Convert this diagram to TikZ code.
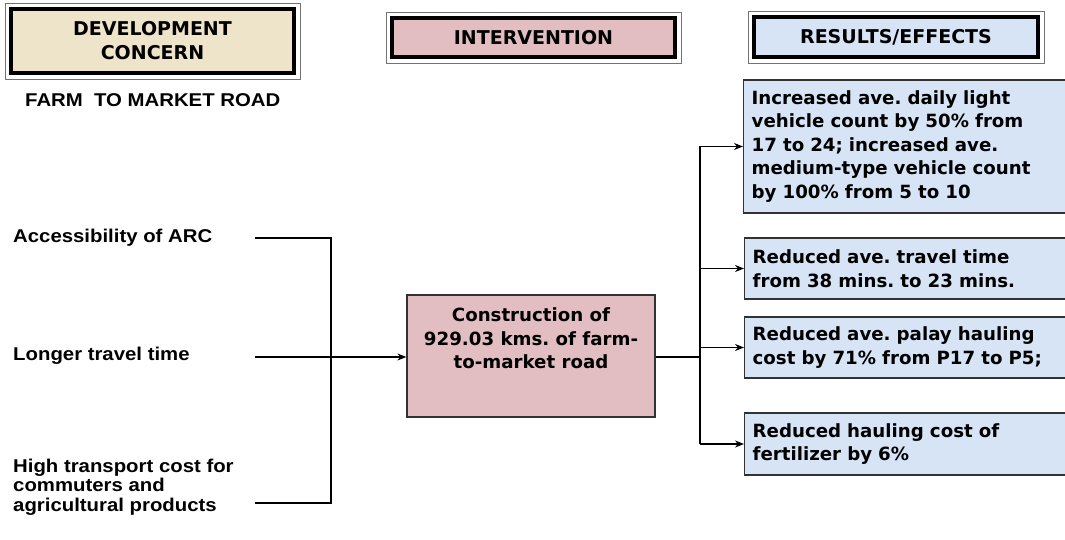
\documentclass[tikz,border=0pt]{standalone}
\usepackage{fontspec}
\setmainfont{DejaVu Sans}
\newfontfamily\arialb{Liberation Sans}[FakeStretch=1.1]
\usetikzlibrary{arrows.meta,calc}
\definecolor{tanfill}{RGB}{238,228,202}
\definecolor{pinkfill}{RGB}{226,190,194}
\definecolor{bluefill}{RGB}{214,228,245}
\definecolor{edge}{RGB}{50,50,50}
\frenchspacing
\tikzset{
  boxfont/.style={font=\fontsize{18.2}{23.5}\selectfont\bfseries},
  headfont/.style={font=\fontsize{19}{24}\selectfont\bfseries},
  leftfont/.style={font=\arialb\fontsize{18.5}{19.5}\selectfont\bfseries},
  header/.style={headfont, draw=black, line width=4pt, inner sep=0pt, align=center},
  rbox/.style={boxfont, draw=edge, line width=1.3pt, fill=bluefill, anchor=west,
    inner xsep=8pt, inner ysep=0pt, minimum width=325pt, text width=309pt, align=left},
  cbox/.style={boxfont, draw=edge, line width=1.3pt, fill=pinkfill, inner xsep=6pt, inner ysep=13pt},
  ltext/.style={leftfont, anchor=west, inner sep=0pt, align=left},
  conn/.style={line width=1.2pt, black},
  arr/.style={conn, -{Stealth[length=9pt,width=7pt]}},
  outerline/.style={draw=black!55, line width=0.9pt}
}
\begin{document}
\begin{tikzpicture}[x=1pt,y=-1pt]
\useasboundingbox (0,0) rectangle (1065,540);
\fill[white] (0,0) rectangle (1065,540);

% headers
\node[header, fill=tanfill, minimum width=283pt, minimum height=64pt] (h1) at (152.5,41) {DEVELOPMENT\\CONCERN};
\draw[outerline] ($(h1.north west)+(-4,-4)$) rectangle ($(h1.south east)+(4,4)$);
\node[header, fill=pinkfill, minimum width=283pt, minimum height=39pt] (h2) at (533.5,37.5) {INTERVENTION};
\draw[outerline] ($(h2.north west)+(-4,-4)$) rectangle ($(h2.south east)+(4,4)$);
\node[header, fill=bluefill, minimum width=284pt, minimum height=40pt] (h3) at (896,37) {RESULTS/EFFECTS};
\draw[outerline] ($(h3.north west)+(-4,-4)$) rectangle ($(h3.south east)+(4,4)$);

\node[ltext] (farm) at (25,100) {FARM\ \ TO MARKET ROAD};

% left concerns
\node[ltext] (acc) at (13,238) {Accessibility of ARC};
\node[ltext] (lon) at (13,356) {Longer travel time};
\node[ltext] (hig) at (13,487) {High transport cost for\\commuters and\\agricultural products};

% center box
\node[cbox] (c) at (531,356) {\parbox[c][96pt][t]{236pt}{\centering Construction of\\929.03 kms. of farm-\\to-market road}};

% result boxes
\node[rbox, minimum height=133pt] (r1) at (743,146.5) {Increased ave. daily light\\vehicle count by 50\% from\\17 to 24; increased ave.\\medium-type vehicle count\\by 100\% from 5 to 10};
\node[rbox, minimum height=61pt] (r2) at (744,268.5) {Reduced ave. travel time\\from 38 mins. to 23 mins.};
\node[rbox, minimum height=61pt] (r3) at (744,347.5) {Reduced ave. palay hauling\\cost by 71\% from P17 to P5;};
\node[rbox, minimum height=62pt] (r4) at (744,444) {Reduced hauling cost of\\fertilizer by 6\%};

% left connectors
\coordinate (s1) at (255,238);
\coordinate (s2) at (255,357);
\coordinate (s3) at (255,503);
\coordinate (lx) at (331,0);
\draw[conn] (s1) -- (s1 -| lx) -- (s3 -| lx) -- (s3);
\draw[arr] (s2) -- (s2 -| c.west);

% right connectors
\coordinate (rx) at (700,0);
\draw[conn] (c.east |- s2) -- (s2 -| rx);
\draw[conn] (r1.west -| rx) -- (r4.west -| rx);
\draw[arr] (r1.west -| rx) -- (r1.west);
\draw[arr] (r2.west -| rx) -- (r2.west);
\draw[arr] (r3.west -| rx) -- (r3.west);
\draw[arr] (r4.west -| rx) -- (r4.west);
\end{tikzpicture}
\end{document}
